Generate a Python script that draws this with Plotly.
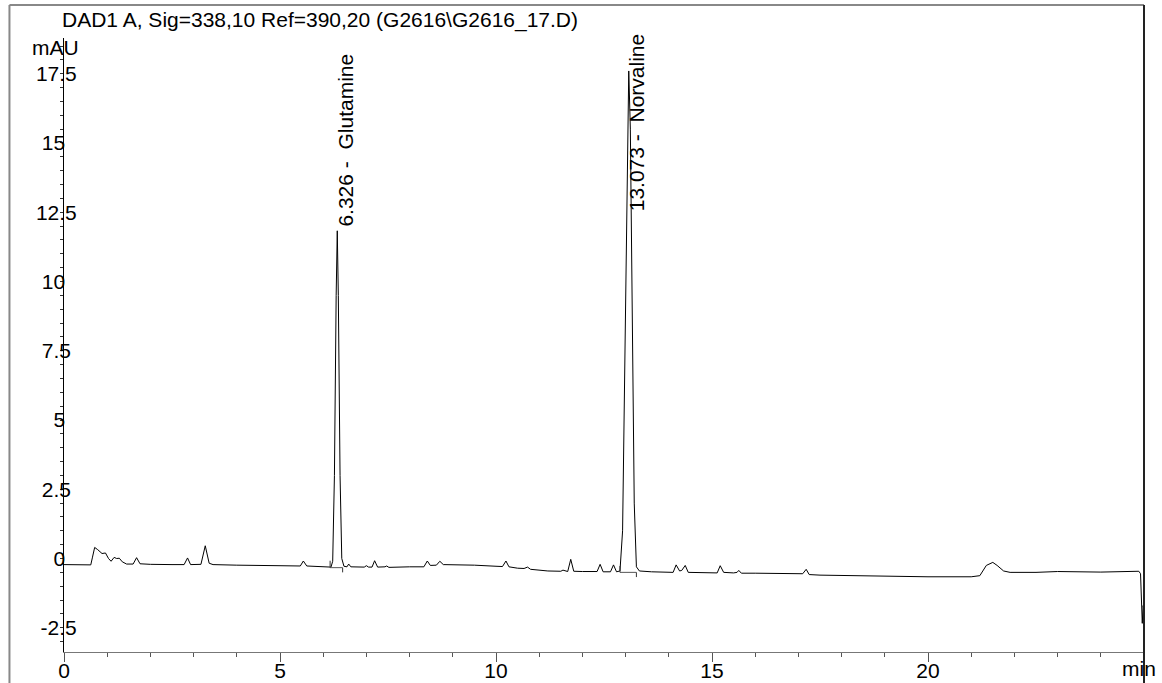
import plotly.graph_objects as go

# Chromatogram trace vertices (time in min, signal in mAU)
time_min = [0.00, 0.62, 0.66, 0.71, 0.78, 0.88, 0.96, 1.03, 1.09, 1.16, 1.22, 1.28, 1.35, 1.45, 1.60, 1.68, 1.76,
            2.00, 2.50, 2.78, 2.86, 2.93, 3.17, 3.27, 3.36, 3.45, 4.00, 4.60, 5.00, 5.47, 5.54, 5.62, 6.00,
            6.18, 6.22, 6.26, 6.30, 6.326, 6.35, 6.39, 6.43, 6.48, 6.55, 6.59, 6.64, 6.95, 7.00, 7.05, 7.13,
            7.19, 7.26, 7.43, 7.47, 7.52, 8.00, 8.33, 8.41, 8.48, 8.62, 8.70, 8.78, 9.00, 9.50, 10.00, 10.15,
            10.23, 10.30, 10.50, 10.65, 10.73, 10.80, 11.20, 11.50, 11.55, 11.62, 11.66, 11.73, 11.80, 12.00,
            12.34, 12.41, 12.48, 12.65, 12.72, 12.79, 12.87, 12.93, 13.00, 13.04, 13.073, 13.11, 13.15, 13.20,
            13.25, 13.32, 13.60, 14.00, 14.10, 14.17, 14.25, 14.30, 14.38, 14.45, 15.00, 15.12, 15.19, 15.27,
            15.50, 15.58, 15.62, 15.68, 16.00, 16.50, 17.10, 17.18, 17.25, 17.50, 18.50, 19.00, 20.00, 21.00,
            21.20, 21.35, 21.50, 21.60, 21.75, 21.90, 22.50, 23.00, 23.30, 24.00, 24.88, 24.92, 24.96, 24.98,
            25.00]
signal_mau = [-0.22, -0.23, 0.05, 0.40, 0.32, 0.18, 0.20, 0.00, -0.10, 0.04, 0.00, 0.01, -0.12, -0.20, -0.20, 0.03, -0.19,
              -0.21, -0.22, -0.22, 0.02, -0.22, -0.21, 0.46, -0.17, -0.22, -0.24, -0.24, -0.26, -0.27, -0.09, -0.27, -0.30,
              -0.31, -0.10, 3.00, 9.50, 11.83, 9.50, 3.00, 0.00, -0.28, -0.30, -0.20, -0.30, -0.31, -0.26, -0.31, -0.31,
              -0.08, -0.31, -0.30, -0.27, -0.32, -0.30, -0.30, -0.09, -0.25, -0.24, -0.10, -0.22, -0.22, -0.24, -0.28, -0.29,
              -0.09, -0.30, -0.35, -0.36, -0.31, -0.39, -0.45, -0.46, -0.42, -0.47, -0.47, -0.03, -0.46, -0.47,
              -0.47, -0.21, -0.48, -0.48, -0.23, -0.48, -0.45, 1.00, 9.00, 15.50, 17.60, 15.50, 9.00, 2.00,
              -0.30, -0.45, -0.48, -0.50, -0.50, -0.23, -0.45, -0.43, -0.25, -0.50, -0.52, -0.52, -0.26, -0.50,
              -0.52, -0.50, -0.43, -0.53, -0.53, -0.54, -0.55, -0.39, -0.58, -0.60, -0.62, -0.65, -0.66, -0.66,
              -0.62, -0.25, -0.14, -0.25, -0.45, -0.50, -0.50, -0.47, -0.48, -0.49, -0.46, -0.55, -2.34, -1.70,
              -1.90]

# Named peaks
peak_times = [6.326, 13.073]
peak_heights = [11.83, 17.60]
peak_names = ["Glutamine", "Norvaline"]
label_base = [11.83, 12.40]

# Integration baselines (start, end, level, start tick top, end tick bottom)
int_start = [6.16, 12.87]
int_end = [6.45, 13.25]
int_start_level = [-0.33, -0.50]
int_end_level = [-0.33, -0.50]
int_start_tick = [-0.08, -0.27]
int_end_tick = [-0.50, -0.67]

# Axis ticks
x_tickvals = [0, 5, 10, 15, 20]
x_ticktext = ["0", "5", "10", "15", "20"]
y_tickvals = [-2.5, 0, 2.5, 5, 7.5, 10, 12.5, 15, 17.5]
y_ticktext = ["-2.5", "0", "2.5", "5", "7.5", "10", "12.5", "15", "17.5"]

title_text = "DAD1 A, Sig=338,10 Ref=390,20 (G2616\\G2616_17.D)"

FONT = "Liberation Sans, Arial, sans-serif"
FS = 21

# approximate Arial glyph widths (em) to center tick labels
W = {"0": .556, "1": .556, "2": .556, "3": .556, "4": .556, "5": .556, "6": .556, "7": .556, "8": .556,
     "9": .556, ".": .278, "-": .333}


def pad(t, maxw):
    w = sum(W.get(c, .556) for c in t)
    extra = (maxw - w) / 2.0
    n = int(round(extra / 0.278))
    return t + "\u00a0" * n


maxw = max(sum(W.get(c, .556) for c in t) for t in y_ticktext)
y_ticktext_padded = [pad(t, maxw) for t in y_ticktext]

fig = go.Figure()

fig.add_trace(go.Scatter(x=time_min, y=signal_mau, mode="lines",
                         line=dict(color="black", width=1), showlegend=False, hoverinfo="skip"))

for i in range(len(int_start)):
    fig.add_trace(go.Scatter(x=[int_start[i], int_end[i]], y=[int_start_level[i], int_end_level[i]],
                             mode="lines", line=dict(color="#555", width=1), showlegend=False))
    fig.add_trace(go.Scatter(x=[int_start[i], int_start[i]], y=[int_start_tick[i], int_start_level[i]],
                             mode="lines", line=dict(color="#333", width=1), showlegend=False))
    fig.add_trace(go.Scatter(x=[int_end[i], int_end[i]], y=[int_end_level[i], int_end_tick[i]],
                             mode="lines", line=dict(color="#333", width=1), showlegend=False))

annotations = []
for t, h, n, lb in zip(peak_times, peak_heights, peak_names, label_base):
    annotations.append(dict(x=t, y=lb, xref="x", yref="y", text=f"{t:.3f} -\u00a0\u00a0{n}",
                            textangle=-90, showarrow=False, xanchor="center", yanchor="bottom",
                            xshift=8, yshift=2, font=dict(family=FONT, size=FS, color="black")))

annotations.append(dict(x=-0.0037, y=1.029, xref="paper", yref="paper", text=title_text, showarrow=False,
                        xanchor="left", yanchor="middle", font=dict(family=FONT, size=FS, color="black")))
annotations.append(dict(x=-0.008, y=0.984, xref="paper", yref="paper", text="mAU", showarrow=False,
                        xanchor="center", yanchor="middle", font=dict(family=FONT, size=FS, color="black")))
annotations.append(dict(x=0.9955, y=-0.0275, xref="paper", yref="paper", text="min", showarrow=False,
                        xanchor="center", yanchor="middle", font=dict(family=FONT, size=FS, color="black")))

shapes = [
    dict(type="line", xref="paper", yref="paper", x0=-0.0505, x1=-0.0505, y0=-0.06, y1=1.0537,
         line=dict(color="#888", width=2)),
    dict(type="line", xref="paper", yref="paper", x0=-0.0505, x1=1.0, y0=1.0537, y1=1.0537,
         line=dict(color="#888", width=2)),
    dict(type="line", xref="paper", yref="paper", x0=1.0, x1=1.0, y0=-0.06, y1=1.0537,
         line=dict(color="#222", width=2)),
]

fig.update_layout(
    width=1162, height=683,
    margin=dict(l=64, r=18, t=38, b=31, autoexpand=False),
    paper_bgcolor="white", plot_bgcolor="white",
    font=dict(family=FONT, size=FS, color="black"),
    annotations=annotations, shapes=shapes, showlegend=False,
    xaxis=dict(range=[0, 25], automargin=False, showgrid=False, zeroline=False, showline=True,
               linecolor="#777", linewidth=1,
               ticks="outside", ticklen=9, tickcolor="#555", tickwidth=1,
               tickvals=x_tickvals, ticktext=x_ticktext, ticklabelstandoff=-9,
               minor=dict(dtick=1, tick0=0, ticks="outside", ticklen=4, tickcolor="#555", showgrid=False),
               tickfont=dict(family=FONT, size=FS, color="black")),
    yaxis=dict(range=[-3.375, 18.79], automargin=False, showgrid=False, zeroline=False, showline=True,
               linecolor="black", linewidth=1, ticks="outside", ticklen=3, tickcolor="#333",
               tickvals=y_tickvals, ticktext=y_ticktext_padded, ticklabelstandoff=-21,
               minor=dict(dtick=0.5, tick0=0, ticks="outside", ticklen=3, tickcolor="#333", showgrid=False),
               tickfont=dict(family=FONT, size=FS, color="black")),
)

fig.write_html("out.html")
